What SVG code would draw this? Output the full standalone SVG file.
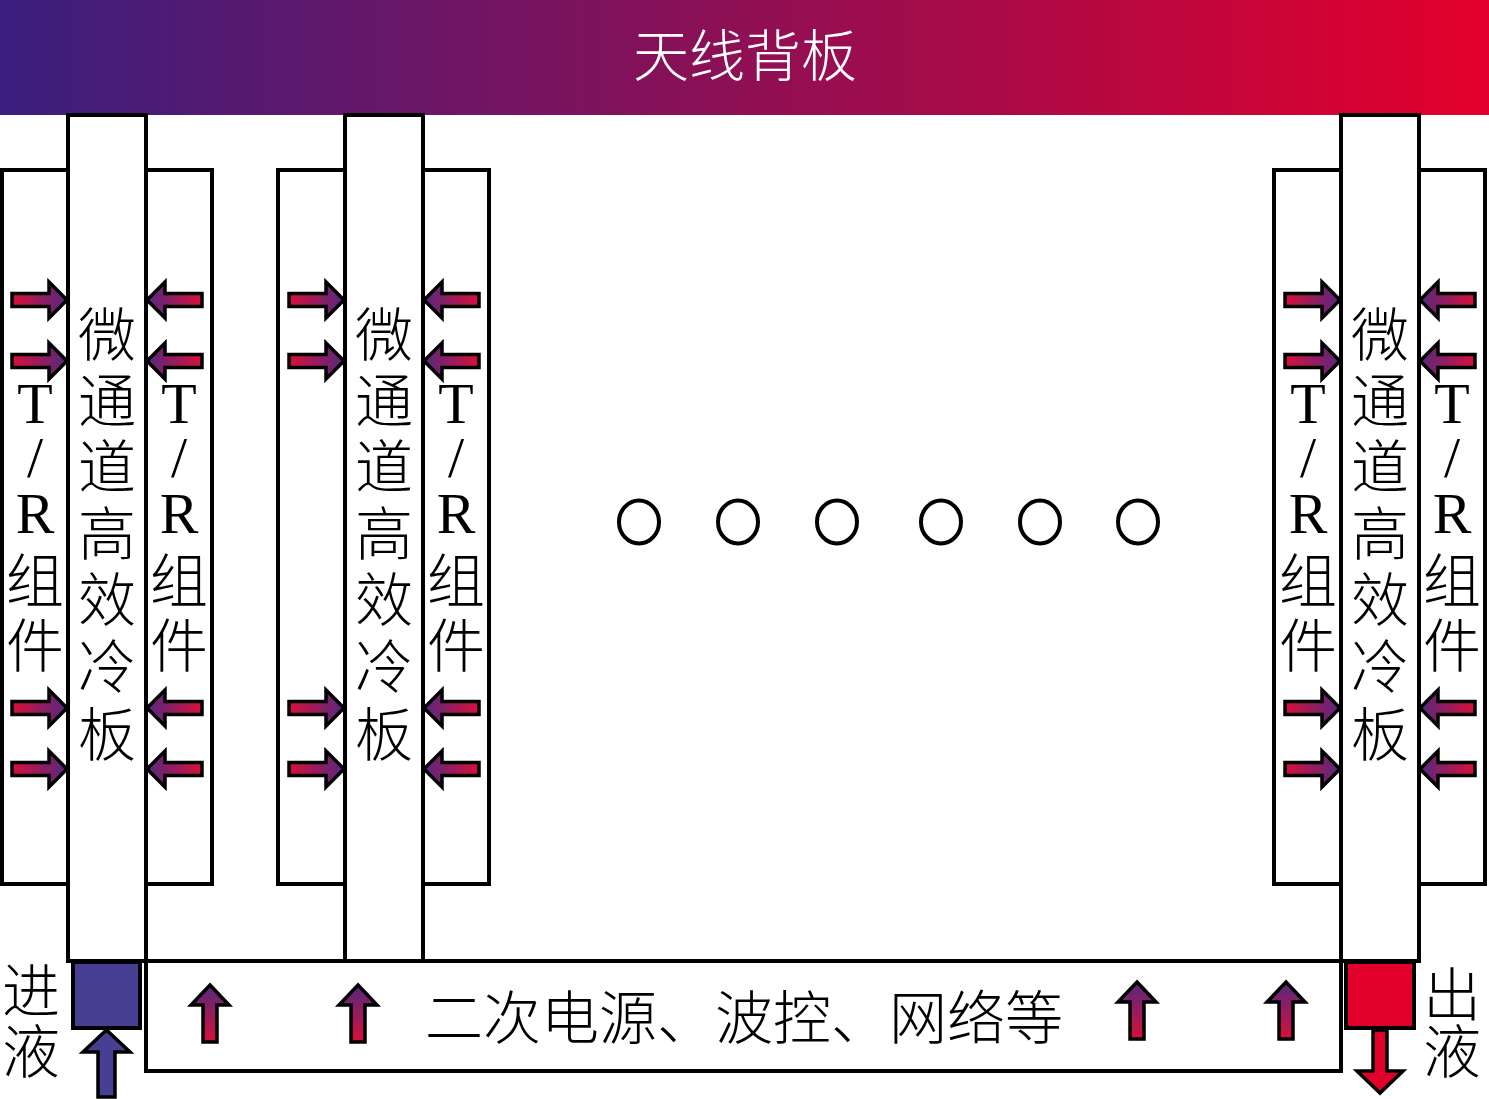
<svg xmlns="http://www.w3.org/2000/svg" xmlns:xlink="http://www.w3.org/1999/xlink" width="1489" height="1099" viewBox="0 0 1489 1099">
<style>
.box{fill:#fff;stroke:#000;stroke-width:4}
.t{font-family:"Liberation Serif","Noto Sans CJK SC",serif;font-size:58px;fill:#000;text-anchor:middle;font-weight:300}
.h{font-family:"Liberation Serif","Noto Sans CJK SC",serif;font-size:56px;fill:#fff;text-anchor:middle;font-weight:300}
.arr{stroke:#000;stroke-width:3.5;stroke-linejoin:miter}
.dot{fill:none;stroke:#000;stroke-width:4}
</style>
<defs>
<linearGradient id="hdr" x1="0" y1="0" x2="1" y2="0">
<stop offset="0" stop-color="#3a1f7e"/>
<stop offset="1" stop-color="#e3002b"/>
</linearGradient>
<linearGradient id="ag" x1="0" y1="0" x2="1" y2="0">
<stop offset="0" stop-color="#d8103a"/>
<stop offset="1" stop-color="#55287f"/>
</linearGradient>
<linearGradient id="ug" x1="0" y1="1" x2="0" y2="0">
<stop offset="0" stop-color="#d8103a"/>
<stop offset="1" stop-color="#55287f"/>
</linearGradient>
<polygon id="ha" class="arr" fill="url(#ag)" points="-55,-6.5 -18,-6.5 -18,-18 0,0 -18,18 -18,6.5 -55,6.5"/>
<polygon id="ua" class="arr" fill="url(#ug)" points="0,0 19,20 7,20 7,57 -7,57 -7,20 -19,20"/>
</defs>

<g id="header">
<rect x="0" y="0" width="1489" height="115" fill="url(#hdr)"/>
<text class="h" x="745" y="76">天线背板</text>
</g>

<g id="module1">
<rect class="box" x="2" y="170" width="66" height="714"/>
<rect class="box" x="146" y="170" width="66" height="714"/>
<rect class="box" x="68" y="115" width="78" height="846"/>
<g class="t">
<text x="35" y="423">T</text><text x="35" y="477">/</text><text x="35" y="533">R</text><text x="35" y="602">组</text><text x="35" y="667">件</text>
<text x="179" y="423">T</text><text x="179" y="477">/</text><text x="179" y="533">R</text><text x="179" y="602">组</text><text x="179" y="667">件</text>
<text x="107" y="356">微</text><text x="107" y="422">通</text><text x="107" y="488">道</text><text x="107" y="555">高</text><text x="107" y="621">效</text><text x="107" y="688">冷</text><text x="107" y="756">板</text>
</g>
</g>

<g id="module2">
<rect class="box" x="278" y="170" width="67" height="714"/>
<rect class="box" x="423" y="170" width="66" height="714"/>
<rect class="box" x="345" y="115" width="78" height="846"/>
<g class="t">
<text x="456" y="423">T</text><text x="456" y="477">/</text><text x="456" y="533">R</text><text x="456" y="602">组</text><text x="456" y="667">件</text>
<text x="384" y="356">微</text><text x="384" y="422">通</text><text x="384" y="488">道</text><text x="384" y="555">高</text><text x="384" y="621">效</text><text x="384" y="688">冷</text><text x="384" y="756">板</text>
</g>
</g>

<g id="module3">
<rect class="box" x="1274" y="170" width="67" height="714"/>
<rect class="box" x="1419" y="170" width="66" height="714"/>
<rect class="box" x="1341" y="115" width="78" height="846"/>
<g class="t">
<text x="1308" y="423">T</text><text x="1308" y="477">/</text><text x="1308" y="533">R</text><text x="1308" y="602">组</text><text x="1308" y="667">件</text>
<text x="1452" y="423">T</text><text x="1452" y="477">/</text><text x="1452" y="533">R</text><text x="1452" y="602">组</text><text x="1452" y="667">件</text>
<text x="1380" y="356">微</text><text x="1380" y="422">通</text><text x="1380" y="488">道</text><text x="1380" y="555">高</text><text x="1380" y="621">效</text><text x="1380" y="688">冷</text><text x="1380" y="756">板</text>
</g>
</g>

<g id="bus">
<rect class="box" x="146" y="961" width="1195" height="110"/>
<text class="t" x="744" y="1039">二次电源、波控、网络等</text>
</g>

<g id="inlet">
<rect x="73" y="962" width="67" height="66" fill="#463f94" stroke="#000" stroke-width="4"/>
<polygon class="arr" fill="#463f94" points="106.5,1030 130,1052 115,1052 115,1097 98,1097 98,1052 83,1052"/>
<text class="t" x="31" y="1012">进</text>
<text class="t" x="31" y="1073">液</text>
</g>

<g id="outlet">
<rect x="1346" y="962" width="68" height="66" fill="#e0002a" stroke="#000" stroke-width="4"/>
<polygon class="arr" fill="#e0002a" points="1373,1030 1387,1030 1387,1071 1403,1071 1380,1093 1357,1071 1373,1071"/>
<text class="t" x="1452" y="1016">出</text>
<text class="t" x="1452" y="1073">液</text>
</g>

<g id="dots">
<ellipse class="dot" cx="639" cy="522" rx="20" ry="21.5"/>
<ellipse class="dot" cx="738" cy="522" rx="20" ry="21.5"/>
<ellipse class="dot" cx="837" cy="522" rx="20" ry="21.5"/>
<ellipse class="dot" cx="941" cy="522" rx="20" ry="21.5"/>
<ellipse class="dot" cx="1040" cy="522" rx="20" ry="21.5"/>
<ellipse class="dot" cx="1138" cy="522" rx="20" ry="21.5"/>
</g>

<g id="connectors">
<use xlink:href="#ha" transform="translate(67,300)"/>
<use xlink:href="#ha" transform="translate(67,361)"/>
<use xlink:href="#ha" transform="translate(67,708)"/>
<use xlink:href="#ha" transform="translate(67,769)"/>
<use xlink:href="#ha" transform="translate(147,300) scale(-1,1)"/>
<use xlink:href="#ha" transform="translate(147,361) scale(-1,1)"/>
<use xlink:href="#ha" transform="translate(147,708) scale(-1,1)"/>
<use xlink:href="#ha" transform="translate(147,769) scale(-1,1)"/>
<use xlink:href="#ha" transform="translate(344,300)"/>
<use xlink:href="#ha" transform="translate(344,361)"/>
<use xlink:href="#ha" transform="translate(344,708)"/>
<use xlink:href="#ha" transform="translate(344,769)"/>
<use xlink:href="#ha" transform="translate(424,300) scale(-1,1)"/>
<use xlink:href="#ha" transform="translate(424,361) scale(-1,1)"/>
<use xlink:href="#ha" transform="translate(424,708) scale(-1,1)"/>
<use xlink:href="#ha" transform="translate(424,769) scale(-1,1)"/>
<use xlink:href="#ha" transform="translate(1340,300)"/>
<use xlink:href="#ha" transform="translate(1340,361)"/>
<use xlink:href="#ha" transform="translate(1340,708)"/>
<use xlink:href="#ha" transform="translate(1340,769)"/>
<use xlink:href="#ha" transform="translate(1420,300) scale(-1,1)"/>
<use xlink:href="#ha" transform="translate(1420,361) scale(-1,1)"/>
<use xlink:href="#ha" transform="translate(1420,708) scale(-1,1)"/>
<use xlink:href="#ha" transform="translate(1420,769) scale(-1,1)"/>
<use xlink:href="#ua" transform="translate(210,985)"/>
<use xlink:href="#ua" transform="translate(358,985)"/>
<use xlink:href="#ua" transform="translate(1137,982)"/>
<use xlink:href="#ua" transform="translate(1286,982)"/>
</g>
</svg>
